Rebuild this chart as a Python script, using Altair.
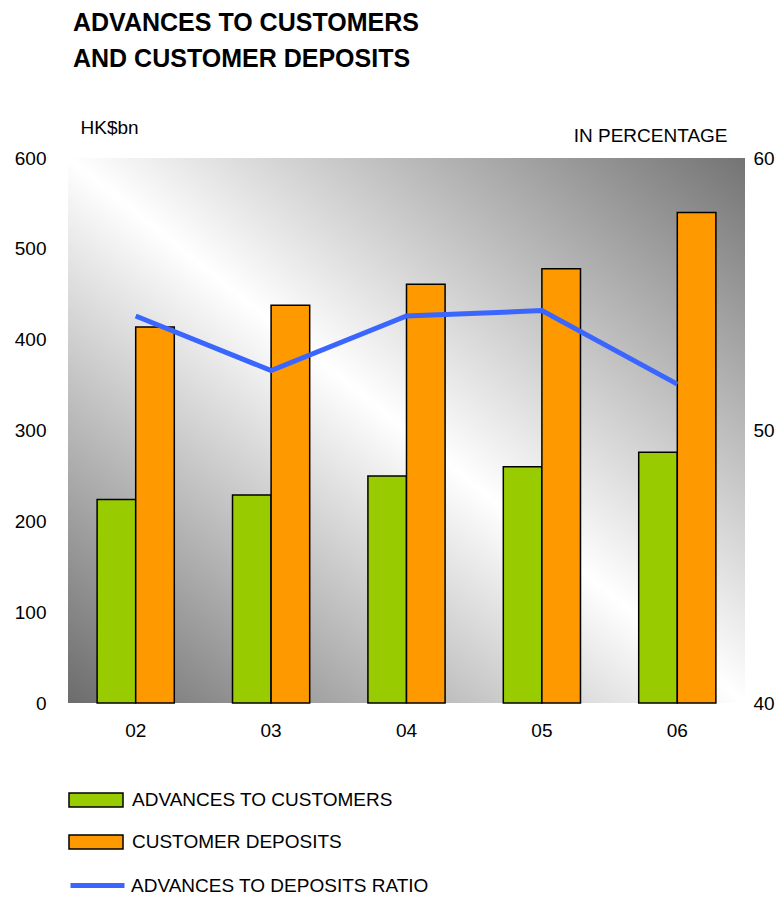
import altair as alt
import pandas as pd

years = ["02", "03", "04", "05", "06"]
advances = [224, 229, 250, 260, 276]
deposits = [414, 438, 461, 478, 540]
ratio = [54.2, 52.2, 54.2, 54.4, 51.7]

S_ADV = "ADVANCES TO CUSTOMERS"
S_DEP = "CUSTOMER DEPOSITS"
S_RAT = "ADVANCES TO DEPOSITS RATIO"

bars_df = pd.DataFrame(
    [{"year": y, "series": S_ADV, "value": v} for y, v in zip(years, advances)]
    + [{"year": y, "series": S_DEP, "value": v} for y, v in zip(years, deposits)]
)
line_df = pd.DataFrame({"year": years, "ratio": ratio, "series": [S_RAT] * len(years)})

FONT = "Liberation Sans"
W, H = 677, 545

xscale = alt.Scale(domain=years, paddingInner=0.43, paddingOuter=0.215)

grad = alt.Gradient(
    gradient="linear",
    x1=0, y1=1, x2=1, y2=0,
    stops=[
        alt.GradientStop(color="#6c6c6c", offset=0),
        alt.GradientStop(color="#ffffff", offset=0.5),
        alt.GradientStop(color="#747474", offset=1),
    ],
)

bg = alt.Chart(alt.Data(values=[{"a": 1}])).mark_rect(fill=grad).encode(
    x=alt.value(0), x2=alt.value("width"), y=alt.value(0), y2=alt.value("height")
)

bars = alt.Chart(bars_df).mark_bar(stroke="black", strokeWidth=1.5).encode(
    x=alt.X("year:N", scale=xscale, sort=years,
            axis=alt.Axis(title=None, labelAngle=0, labelPadding=18, ticks=False, domain=False,
                          labelFontSize=19)),
    xOffset=alt.XOffset("series:N", sort=[S_ADV, S_DEP]),
    y=alt.Y("value:Q", scale=alt.Scale(domain=[0, 600], nice=False),
            axis=alt.Axis(values=[0, 100, 200, 300, 400, 500, 600], title="HK$bn",
                          titleAngle=0, titleX=12, titleY=-31, titleAlign="left",
                          titleBaseline="middle", titleFontSize=19, titleFontWeight="normal",
                          labelPadding=22, ticks=False, domain=False, grid=False,
                          labelFontSize=19)),
    fill=alt.Fill("series:N", sort=[S_ADV, S_DEP],
                  scale=alt.Scale(domain=[S_ADV, S_DEP], range=["#99cc00", "#ff9900"]),
                  legend=alt.Legend(title=None, orient="none", legendX=0, legendY=614,
                                    symbolType="M-1,-0.26L1,-0.26L1,0.26L-1,0.26Z",
                                    symbolSize=2916, symbolStrokeColor="black",
                                    symbolStrokeWidth=1.5, labelFontSize=19, labelOffset=8,
                                    rowPadding=3, padding=0, labelFont=FONT,
                                    labelColor="black", labelLimit=500)),
)

line = alt.Chart(line_df).mark_line(strokeWidth=5).encode(
    x=alt.X("year:N", scale=xscale, sort=years),
    y=alt.Y("ratio:Q", scale=alt.Scale(domain=[40, 60], nice=False),
            axis=alt.Axis(orient="right", values=[40, 50, 60], title="IN PERCENTAGE",
                          titleAngle=0, titleX=-18, titleY=-23, titleAlign="right",
                          titleBaseline="middle", titleFontSize=19, titleFontWeight="normal",
                          labelPadding=8, ticks=False, domain=False, grid=False,
                          labelFontSize=19)),
    stroke=alt.Stroke("series:N", scale=alt.Scale(domain=[S_RAT], range=["#3a66ff"]),
                      legend=alt.Legend(title=None, orient="none", legendX=0, legendY=698,
                                        symbolType="stroke", symbolSize=2916,
                                        symbolStrokeWidth=5, labelFontSize=19, labelOffset=4,
                                        padding=0, labelFont=FONT, labelColor="black",
                                        labelLimit=500)),
)

chart = (
    alt.layer(bg, bars, line)
    .resolve_scale(y="independent", fill="independent", stroke="independent")
    .properties(
        width=W,
        height=H,
        autosize=alt.AutoSizeParams(type="none"),
        padding={"left": 60, "top": 150, "right": 31, "bottom": 192},
        title=alt.Title(
            ["ADVANCES TO CUSTOMERS", "AND CUSTOMER DEPOSITS"],
            anchor="start", frame="group", dx=5, offset=46,
            font=FONT, fontSize=25, fontWeight="bold", color="black", lineHeight=36,
        ),
    )
    .configure_view(stroke=None)
    .configure_axis(labelFont=FONT, titleFont=FONT, labelColor="black", titleColor="black")
)

chart.save("out.html", embed_options={"renderer": "svg", "actions": False})
